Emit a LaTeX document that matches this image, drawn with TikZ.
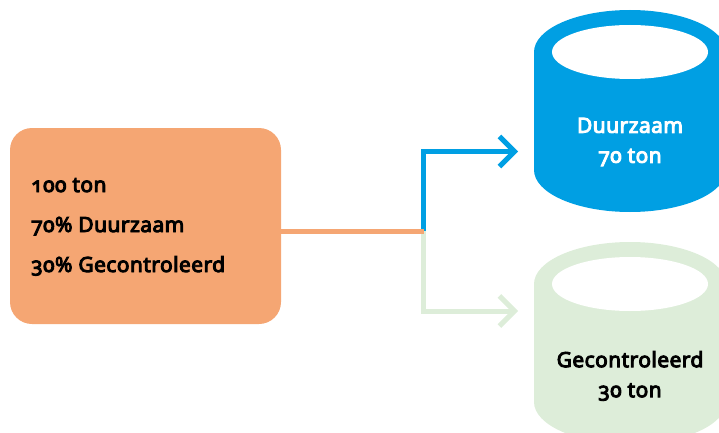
\documentclass[tikz,border=0pt]{standalone}
\usepackage{fontspec}
\setmainfont{Noto Sans}[Numbers=OldStyle,BoldFont={Noto Sans},BoldFeatures={FakeBold=4.5,LetterSpace=2}]
\usepackage{tikz}
\usetikzlibrary{arrows.meta,positioning}
\definecolor{oranje}{HTML}{F5A673}
\definecolor{blauw}{HTML}{009FE3}
\definecolor{groen}{HTML}{DDEDD9}

\begin{document}
\begin{tikzpicture}[x=1pt,y=1pt,
    tekst/.style={font=\fontsize{21}{30}\selectfont\bfseries,inner sep=0pt},
    pijl/.style={line width=5pt,-{Straight Barb[length=15pt,width=30pt,line width=5pt]}}]
                \useasboundingbox (0,0) rectangle (719,432);
                \clip (0,0) rectangle (719,432);
                % bron
                \node[fill=oranje,rounded corners=22pt,minimum width=271pt,minimum height=196pt,inner sep=0pt] (bron) at (145.5,206) {};
                \node[tekst,align=left,anchor=base west,font=\fontsize{21}{40}\selectfont\bfseries] (brontekst) at (31,160) {100 ton\\70\% Duurzaam\\30\% Gecontroleerd};
                % cilinders
                \fill[blauw] (534,380) -- (534,262) arc[start angle=180,end angle=360,x radius=96,y radius=42] -- (726,380) arc[start angle=0,end angle=180,x radius=96,y radius=42] -- cycle;
                \fill[white] (630,380) ellipse [x radius=78,y radius=27];
                \fill[groen] (534,148) -- (534,30) arc[start angle=180,end angle=360,x radius=96,y radius=42] -- (726,148) arc[start angle=0,end angle=180,x radius=96,y radius=42] -- cycle;
                \fill[white] (630,148) ellipse [x radius=78,y radius=27];
                \node[tekst,align=center,text=white] (duurzaam) at (630,290) {Duurzaam\\70 ton};
                \node[tekst,align=center,text=black] (gecontroleerd) at (630,56) {Gecontroleerd\\30 ton};
                % verbindingen
                \coordinate (split) at (423.5,201);
                \coordinate (naarblauw) at (518,280.5);
                \coordinate (naargroen) at (518,121);
                \draw[groen,pijl] (split) |- (naargroen);
                \draw[blauw,pijl] (split) |- (naarblauw);
                \draw[oranje,line width=5pt] (bron.east |- split) -- (split);
            \end{tikzpicture}
\end{document}
